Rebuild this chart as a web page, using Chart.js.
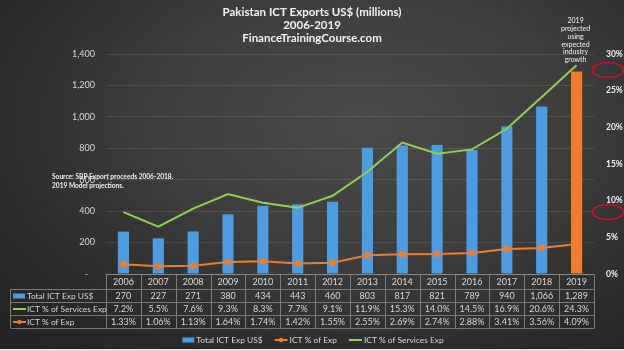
<!DOCTYPE html>
<html><head><meta charset="utf-8">
<script src="https://cdn.jsdelivr.net/npm/chart.js@4.4.1/dist/chart.umd.min.js"></script>
<style>
html,body{margin:0;padding:0;background:#2a2a2a;}
#wrap{position:relative;width:624px;height:351px;overflow:hidden;
  background:radial-gradient(ellipse 75% 85% at 58% 35%, #4a4a4a 0%, #3d3d3d 45%, #2b2b2b 80%, #242424 100%);}
#strip{position:absolute;left:0;right:0;bottom:0;height:2px;background:#e4e4e4;}
canvas{display:block;}
</style></head>
<body><div id="wrap"><canvas id="c" width="624" height="351"></canvas><div id="strip"></div></div>
<script>
// ---- data ----
const years = ['2006','2007','2008','2009','2010','2011','2012','2013','2014','2015','2016','2017','2018','2019'];
const ictExports = [270,227,271,380,434,443,460,803,817,821,789,940,1066,1289];
const ictPctServices = [7.2,5.5,7.6,9.3,8.3,7.7,9.1,11.9,15.3,14.0,14.5,16.9,20.6,24.3];
const ictPctExports = [1.33,1.06,1.13,1.64,1.74,1.42,1.55,2.55,2.69,2.74,2.88,3.41,3.56,4.09];
const leftTickValues = [0,200,400,600,800,1000,1200,1400];
const rightTickValues = [0,5,10,15,20,25,30];
const projectedYear = '2019';
const seriesNames = ['Total ICT Exp US$','ICT % of Services Exp','ICT % of Exp'];
const titleLines = ['Pakistan ICT Exports US$ (millions)','2006-2019','FinanceTrainingCourse.com'];
const sourceNote = ['Source: SBP Export proceeds 2006-2018.','2019 Model projections.'];
const projNote = ['2019','projected','using','expected','industry','growth'];

// ---- styles ----
const BLUE = '#4f9be2', ORANGE = '#ee7d2e', GREEN = '#92d050';
const TXT = '#d9d9d9', GRIDC = 'rgba(255,255,255,0.10)', TABLE_LINE = '#7a7a7a';
const FONT = 'Lato, "Liberation Sans", sans-serif';

function fmtInt(v){ return v.toLocaleString('en-US'); }

function drawKey(ctx, kind, x, y){
  if (kind === 0){ ctx.fillStyle = BLUE; ctx.fillRect(x, y-2.5, 12, 5); }
  else {
    const c = kind === 1 ? GREEN : ORANGE;
    ctx.strokeStyle = c; ctx.lineWidth = 2;
    ctx.beginPath(); ctx.moveTo(x, y); ctx.lineTo(x+13, y); ctx.stroke();
    if (kind === 2){ ctx.fillStyle = c; ctx.beginPath(); ctx.arc(x+6.5, y, 2.2, 0, Math.PI*2); ctx.fill(); }
  }
}

const deco = {
  id: 'deco',
  afterDraw(chart){
    const {ctx, chartArea: ca} = chart;
    const x = chart.scales.x;
    const n = years.length, cw = ca.width / n;
    ctx.save();
    // title
    ctx.fillStyle = '#f4f4f4'; ctx.textAlign = 'center'; ctx.textBaseline = 'middle';
    ctx.font = 'bold 11.5px ' + FONT;
    titleLines.forEach((t,i) => ctx.fillText(t, 312, 12 + i*13));
    // table
    const rows = [ca.bottom, ca.bottom+15, ca.bottom+28, ca.bottom+41, ca.bottom+54];
    const labelLeft = 10.5;
    ctx.strokeStyle = TABLE_LINE; ctx.lineWidth = 1;
    ctx.beginPath();
    for (let i = 0; i <= n; i++){
      const xx = Math.round(ca.left + i*cw) + 0.5;
      ctx.moveTo(xx, rows[0]); ctx.lineTo(xx, rows[4]);
    }
    ctx.moveTo(labelLeft, rows[1]); ctx.lineTo(labelLeft, rows[4]);
    for (let r = 1; r <= 4; r++){
      const yy = Math.round(rows[r]) + 0.5;
      ctx.moveTo(labelLeft, yy); ctx.lineTo(Math.round(ca.right)+0.5, yy);
    }
    ctx.stroke();
    // axis line
    ctx.strokeStyle = '#8a8a8a';
    ctx.beginPath(); ctx.moveTo(ca.left, Math.round(ca.bottom)+0.5); ctx.lineTo(ca.right, Math.round(ca.bottom)+0.5); ctx.stroke();
    ctx.font = '9px ' + FONT; ctx.fillStyle = TXT; ctx.textAlign = 'center';
    const series = [ictExports.map(fmtInt), ictPctServices.map(v => v.toFixed(1)+'%'), ictPctExports.map(v => v.toFixed(2)+'%')];
    years.forEach((yr, i) => {
      const cx = x.getPixelForValue(i);
      ctx.fillText(yr, cx, (rows[0]+rows[1])/2 + 0.5);
      series.forEach((s, r) => ctx.fillText(s[i], cx, (rows[r+1]+rows[r+2])/2 + 0.5));
    });
    ctx.textAlign = 'left';
    ctx.font = '8.4px ' + FONT;
    seriesNames.forEach((name, r) => {
      const cy = (rows[r+1]+rows[r+2])/2 + 0.5;
      drawKey(ctx, r, 13, cy);
      ctx.fillStyle = TXT; ctx.fillText(name, 27, cy);
    });
    // legend (bar, % of Exp, % of Services)
    const order = [0, 2, 1];
    const items = order.map(k => ({k, w: (k===0?12:13) + 2 + ctx.measureText(seriesNames[k]).width}));
    const gap = 12;
    const total = items.reduce((a,b) => a + b.w, 0) + gap*(items.length-1);
    let lx = 313 - total/2; const ly = 340;
    items.forEach(it => {
      drawKey(ctx, it.k, lx, ly);
      ctx.fillStyle = TXT; ctx.fillText(seriesNames[it.k], lx + (it.k===0?12:13) + 2, ly);
      lx += it.w + gap;
    });
    // source note
    ctx.font = 'bold 6.6px ' + FONT; ctx.fillStyle = '#f0f0f0';
    sourceNote.forEach((t,i) => ctx.fillText(t, 52, 177 + i*9));
    // projection note
    ctx.font = '7px ' + FONT; ctx.textAlign = 'center';
    const px = x.getPixelForValue(years.indexOf(projectedYear));
    projNote.forEach((t,i) => ctx.fillText(t, px - 1, 21 + i*7.8));
    // red ellipses
    ctx.strokeStyle = '#c8102e'; ctx.lineWidth = 1.6;
    [[608, 70], [608, 212]].forEach(([ex, ey]) => {
      ctx.beginPath(); ctx.ellipse(ex, ey, 15.5, 7.5, 0, 0, Math.PI*2); ctx.stroke();
    });
    ctx.restore();
  }
};

new Chart(document.getElementById('c'), {
  data: {
    labels: years,
    datasets: [
      { type: 'bar', label: seriesNames[0], data: ictExports, yAxisID: 'y',
        backgroundColor: years.map(y => y === projectedYear ? ORANGE : BLUE),
        barPercentage: 0.32, categoryPercentage: 1, order: 3 },
      { type: 'line', label: seriesNames[1], data: ictPctServices, yAxisID: 'y2',
        borderColor: GREEN, borderWidth: 2, pointRadius: 0, tension: 0, order: 1 },
      { type: 'line', label: seriesNames[2], data: ictPctExports, yAxisID: 'y1',
        borderColor: ORANGE, backgroundColor: ORANGE, borderWidth: 2,
        pointRadius: 2.3, pointBackgroundColor: ORANGE, pointBorderColor: ORANGE, tension: 0, order: 2 }
    ]
  },
  options: {
    responsive: false, animation: false, devicePixelRatio: 1,
    layout: { padding: { left: 0, right: 0, top: 54, bottom: 0 } },
    plugins: { legend: { display: false }, tooltip: { enabled: false }, title: { display: false } },
    scales: {
      x: { type: 'category', offset: true, grid: { display: false }, border: { display: false },
           ticks: { display: false }, afterFit(s){ s.height = 77; } },
      y: { position: 'left', min: 0, max: 1400,
           afterBuildTicks(s){ s.ticks = leftTickValues.map(v => ({value: v})); },
           grid: { color: GRIDC, drawTicks: false }, border: { display: false },
           ticks: { color: TXT, font: { family: FONT, size: 9 }, padding: 11,
                    callback: v => v === 0 ? '-   ' : fmtInt(v) },
           afterFit(s){ s.width = 106; } },
      y1: { position: 'right', min: 0, max: 30,
            afterBuildTicks(s){ s.ticks = rightTickValues.map(v => ({value: v})); },
            grid: { display: false }, border: { display: false },
            ticks: { color: '#f2f2f2', font: { family: FONT, size: 8.5, weight: 'bold' }, padding: 4,
                     callback: v => v + '%' },
            afterFit(s){ s.width = 30; } },
      y2: { display: false, min: 0, max: 25.6 }
    }
  },
  plugins: [deco]
});
</script>
</body></html>
